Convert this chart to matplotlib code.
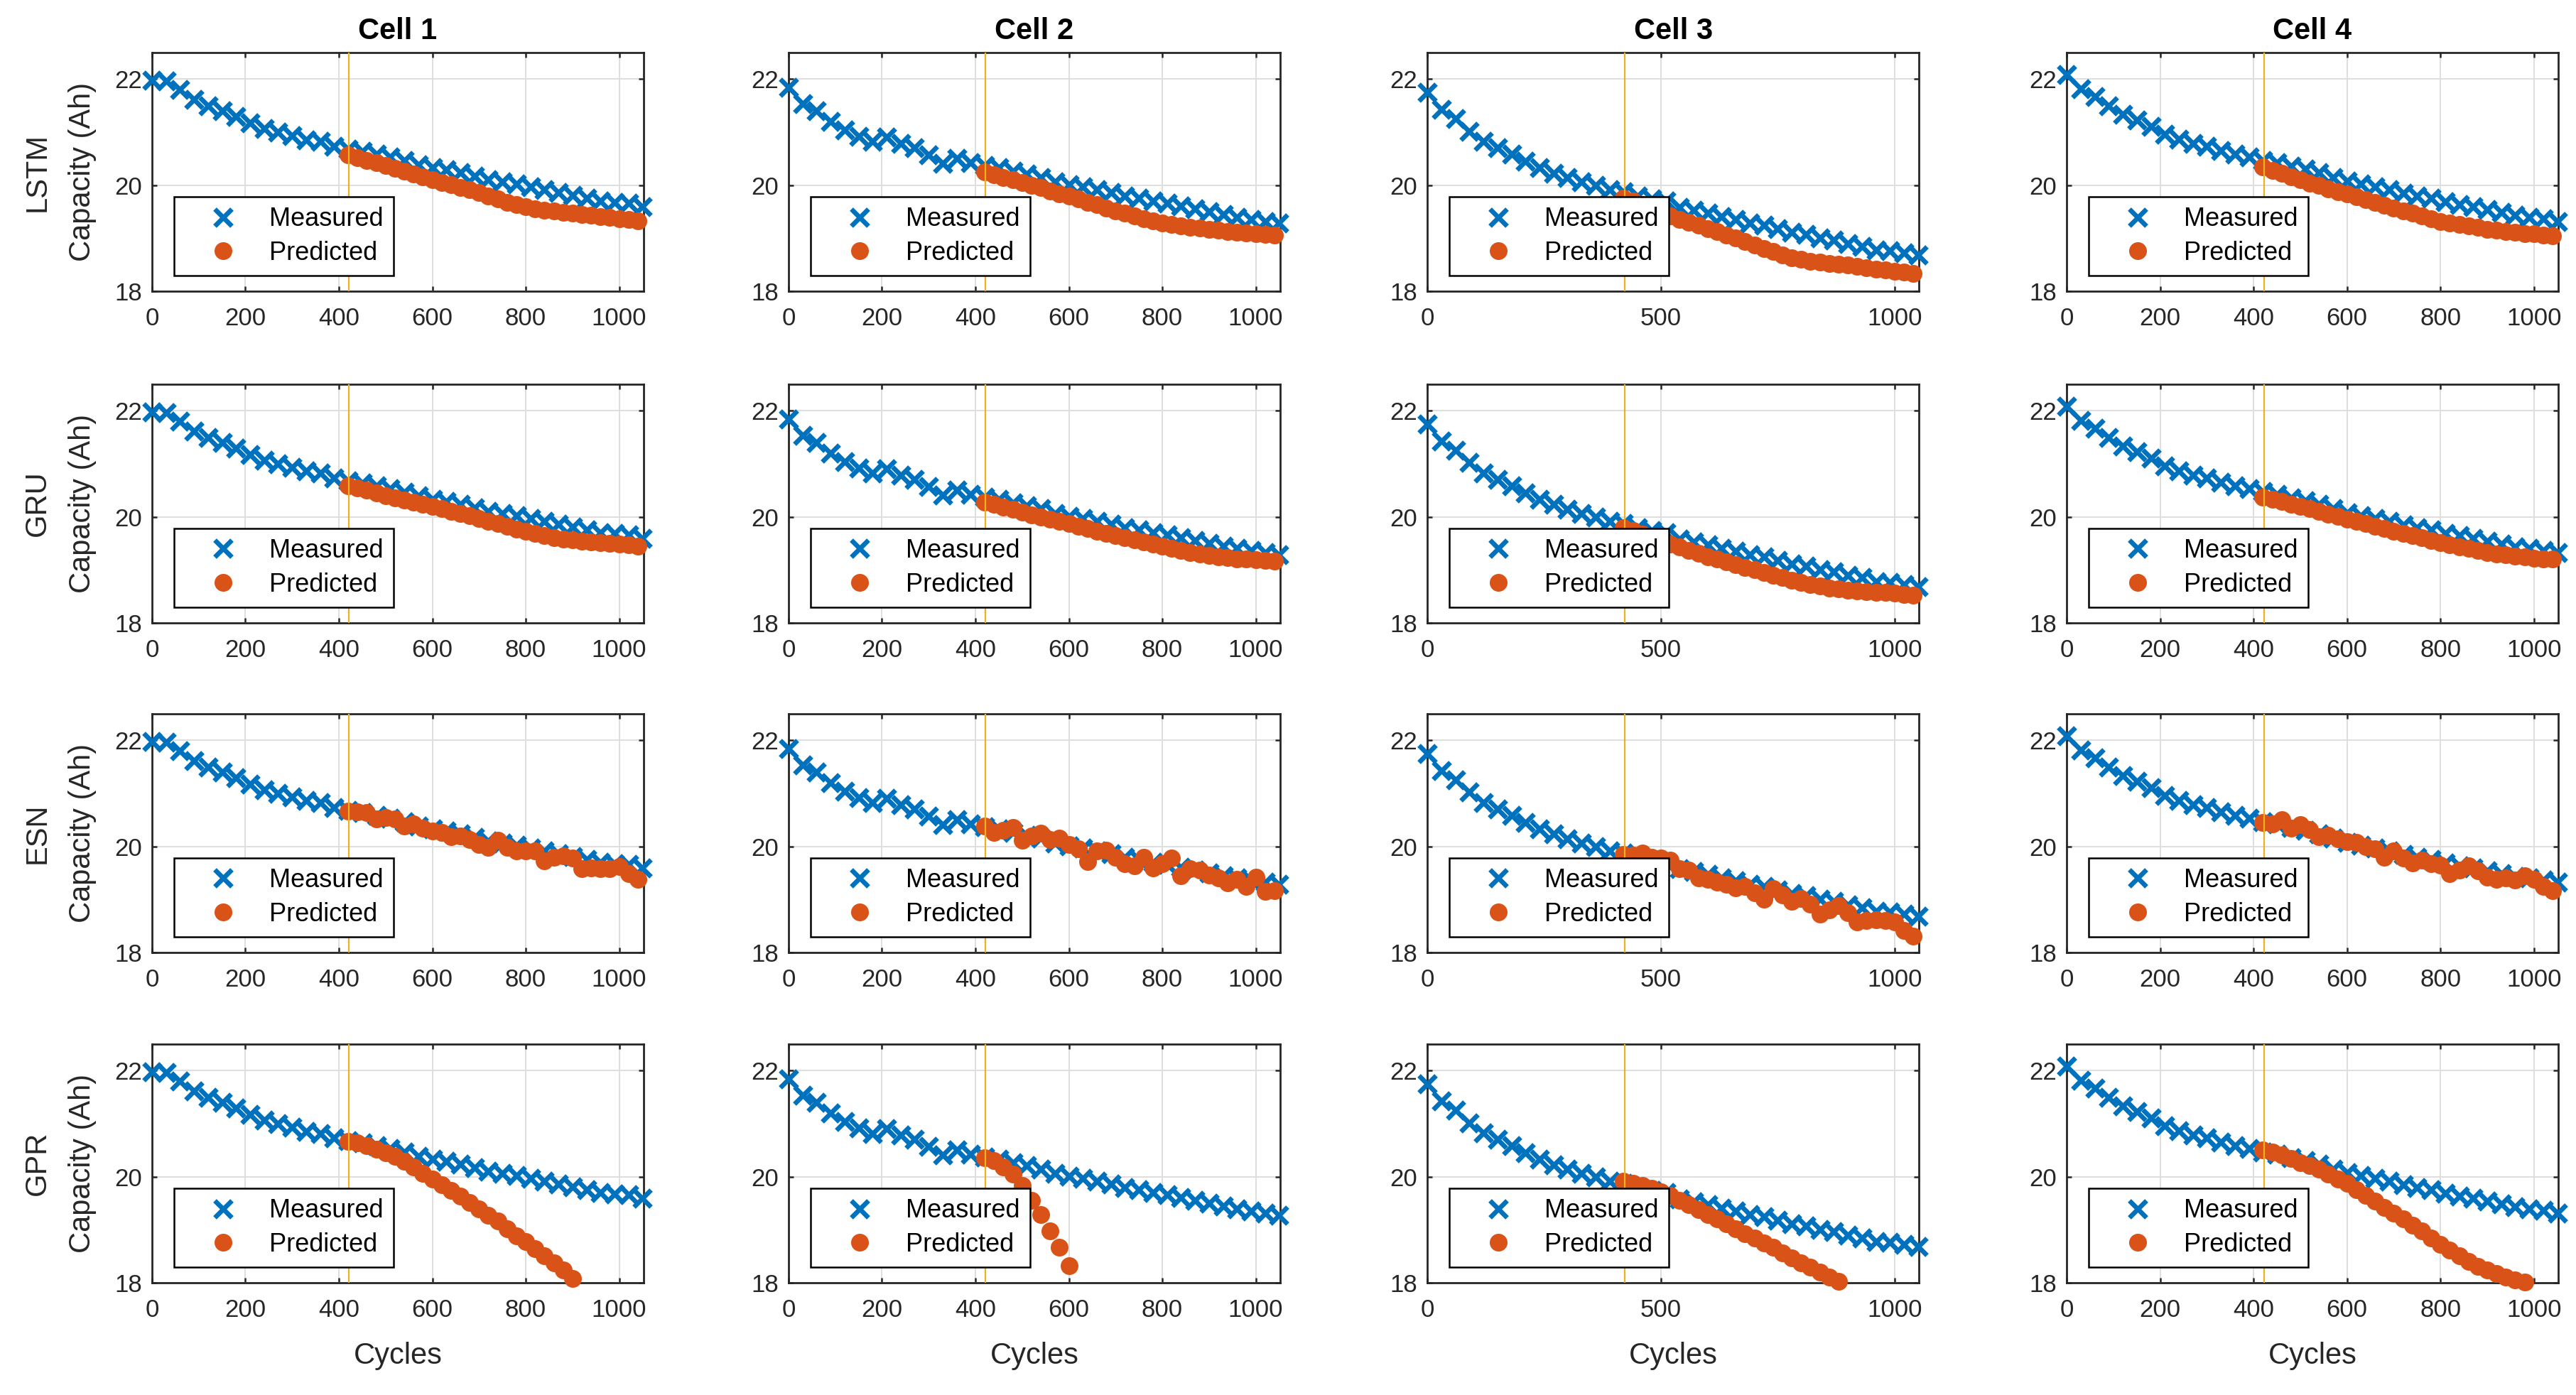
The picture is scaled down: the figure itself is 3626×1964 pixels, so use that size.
import numpy as np
import matplotlib
matplotlib.use("Agg")
import matplotlib.pyplot as plt

plt.rcParams['font.family'] = ['Liberation Sans', 'DejaVu Sans']

cell_names = ['Cell 1', 'Cell 2', 'Cell 3', 'Cell 4']
model_names = ['LSTM', 'GRU', 'ESN', 'GPR']

cycles_meas = np.arange(0, 1051, 30)
cycles_pred = np.arange(420, 1041, 20)
split_cycle = 422

meas_cell1 = [21.98, 21.96, 21.80, 21.62, 21.49, 21.40, 21.29, 21.17, 21.07, 21.00,
              20.93, 20.86, 20.82, 20.73, 20.68, 20.64, 20.58, 20.53, 20.46, 20.39,
              20.33, 20.29, 20.24, 20.17, 20.10, 20.06, 20.02, 19.97, 19.92, 19.86,
              19.81, 19.75, 19.70, 19.68, 19.66, 19.59]
meas_cell2 = [21.84, 21.54, 21.40, 21.20, 21.04, 20.92, 20.82, 20.91, 20.79, 20.71,
              20.57, 20.41, 20.50, 20.42, 20.37, 20.33, 20.26, 20.21, 20.15, 20.06,
              20.01, 19.97, 19.92, 19.86, 19.80, 19.75, 19.70, 19.66, 19.61, 19.55,
              19.50, 19.45, 19.40, 19.36, 19.32, 19.28]
meas_cell3 = [21.75, 21.43, 21.25, 21.02, 20.83, 20.70, 20.59, 20.45, 20.33, 20.23,
              20.14, 20.06, 20.00, 19.92, 19.87, 19.79, 19.74, 19.70, 19.58, 19.53,
              19.47, 19.41, 19.35, 19.29, 19.24, 19.18, 19.11, 19.07, 19.01, 18.96,
              18.90, 18.85, 18.78, 18.76, 18.72, 18.68]
meas_cell4 = [22.08, 21.82, 21.67, 21.50, 21.34, 21.23, 21.11, 20.96, 20.87, 20.79,
              20.73, 20.65, 20.59, 20.53, 20.47, 20.42, 20.36, 20.30, 20.24, 20.15,
              20.08, 20.02, 19.97, 19.92, 19.85, 19.80, 19.75, 19.69, 19.64, 19.59,
              19.54, 19.49, 19.43, 19.40, 19.37, 19.32]
measured = [meas_cell1, meas_cell2, meas_cell3, meas_cell4]

lstm_pred = [
    [20.57, 20.52, 20.47, 20.42, 20.37, 20.32, 20.26, 20.21, 20.16, 20.10, 20.05,
     20.01, 19.96, 19.91, 19.86, 19.80, 19.74, 19.68, 19.63, 19.60, 19.56, 19.53,
     19.51, 19.49, 19.47, 19.45, 19.43, 19.41, 19.39, 19.37, 19.35, 19.33],
    [20.25, 20.20, 20.15, 20.10, 20.05, 20.00, 19.95, 19.89, 19.84, 19.79, 19.74,
     19.68, 19.63, 19.57, 19.52, 19.47, 19.42, 19.37, 19.33, 19.29, 19.26, 19.23,
     19.21, 19.19, 19.17, 19.15, 19.13, 19.11, 19.10, 19.08, 19.07, 19.06],
    [19.76, 19.70, 19.63, 19.56, 19.49, 19.42, 19.36, 19.30, 19.24, 19.18, 19.12,
     19.06, 19.00, 18.94, 18.87, 18.81, 18.75, 18.68, 18.63, 18.60, 18.57, 18.55,
     18.53, 18.51, 18.49, 18.47, 18.44, 18.42, 18.40, 18.38, 18.36, 18.34],
    [20.34, 20.28, 20.22, 20.16, 20.10, 20.04, 19.99, 19.93, 19.88, 19.83, 19.78,
     19.73, 19.68, 19.62, 19.57, 19.52, 19.47, 19.42, 19.37, 19.32, 19.29, 19.26,
     19.23, 19.20, 19.17, 19.15, 19.13, 19.11, 19.09, 19.08, 19.06, 19.05],
]
gru_pred = [
    [20.58, 20.54, 20.50, 20.45, 20.40, 20.36, 20.32, 20.28, 20.24, 20.19, 20.15,
     20.10, 20.06, 20.02, 19.97, 19.92, 19.87, 19.82, 19.77, 19.73, 19.69, 19.65,
     19.61, 19.58, 19.56, 19.54, 19.53, 19.51, 19.50, 19.49, 19.47, 19.45],
    [20.28, 20.23, 20.18, 20.14, 20.09, 20.04, 20.00, 19.96, 19.91, 19.87, 19.82,
     19.78, 19.73, 19.69, 19.64, 19.60, 19.56, 19.52, 19.48, 19.44, 19.40, 19.37,
     19.33, 19.30, 19.27, 19.25, 19.23, 19.21, 19.20, 19.19, 19.18, 19.17],
    [19.80, 19.74, 19.67, 19.61, 19.55, 19.49, 19.43, 19.37, 19.31, 19.25, 19.20,
     19.15, 19.10, 19.05, 19.00, 18.95, 18.90, 18.85, 18.80, 18.76, 18.72, 18.69,
     18.66, 18.64, 18.62, 18.60, 18.59, 18.58, 18.57, 18.56, 18.54, 18.52],
    [20.37, 20.33, 20.29, 20.24, 20.20, 20.15, 20.10, 20.05, 20.01, 19.96, 19.91,
     19.87, 19.82, 19.78, 19.73, 19.68, 19.64, 19.60, 19.55, 19.51, 19.47, 19.43,
     19.40, 19.36, 19.33, 19.30, 19.28, 19.26, 19.24, 19.22, 19.21, 19.20],
]
esn_pred = [
    [20.67, 20.65, 20.64, 20.52, 20.54, 20.52, 20.38, 20.43, 20.34, 20.29, 20.27,
     20.18, 20.20, 20.13, 20.04, 19.98, 20.11, 19.98, 19.91, 19.91, 19.91, 19.73,
     19.80, 19.82, 19.78, 19.58, 19.60, 19.58, 19.58, 19.62, 19.49, 19.38],
    [20.39, 20.27, 20.31, 20.36, 20.11, 20.20, 20.25, 20.13, 20.16, 20.04, 19.96,
     19.71, 19.91, 19.93, 19.80, 19.67, 19.64, 19.80, 19.60, 19.67, 19.78, 19.44,
     19.58, 19.55, 19.46, 19.40, 19.31, 19.38, 19.24, 19.42, 19.15, 19.17],
    [19.85, 19.83, 19.87, 19.80, 19.78, 19.74, 19.58, 19.56, 19.40, 19.38, 19.33,
     19.29, 19.22, 19.25, 19.13, 19.00, 19.20, 19.09, 18.96, 19.02, 18.91, 18.73,
     18.80, 18.89, 18.75, 18.58, 18.60, 18.62, 18.60, 18.58, 18.42, 18.31],
    [20.45, 20.43, 20.50, 20.34, 20.41, 20.32, 20.18, 20.21, 20.14, 20.09, 20.07,
     20.00, 19.96, 19.80, 19.91, 19.78, 19.69, 19.74, 19.67, 19.65, 19.49, 19.56,
     19.63, 19.54, 19.42, 19.38, 19.40, 19.36, 19.45, 19.38, 19.25, 19.16],
]
gpr_pred = [
    [20.67, 20.64, 20.58, 20.52, 20.45, 20.38, 20.29, 20.18, 20.07, 19.96, 19.85,
     19.74, 19.63, 19.51, 19.40, 19.27, 19.16, 19.02, 18.89, 18.78, 18.64, 18.51,
     18.37, 18.24, 18.08],
    [20.36, 20.31, 20.19, 20.05, 19.83, 19.55, 19.29, 18.98, 18.67, 18.32],
    [19.92, 19.87, 19.83, 19.78, 19.71, 19.65, 19.56, 19.47, 19.38, 19.29, 19.20,
     19.11, 19.02, 18.93, 18.84, 18.75, 18.67, 18.56, 18.47, 18.38, 18.29, 18.20,
     18.11, 18.03],
    [20.50, 20.46, 20.41, 20.34, 20.27, 20.21, 20.14, 20.05, 19.96, 19.87, 19.76,
     19.65, 19.54, 19.42, 19.31, 19.20, 19.09, 18.98, 18.84, 18.73, 18.62, 18.51,
     18.40, 18.31, 18.24, 18.17, 18.11, 18.06, 18.02],
]
predictions = [lstm_pred, gru_pred, esn_pred, gpr_pred]

blue = '#0072BD'
orange = '#D95319'
gold = '#EDB120'
dark = '#262626'

fig = plt.figure(figsize=(18.13, 9.82), dpi=200)
lefts = [0.0590, 0.3061, 0.5541, 0.8023]
bottoms = [0.7912, 0.5535, 0.3172, 0.0804]
w, h = 0.1908, 0.1711

for r, model in enumerate(model_names):
    for c in range(4):
        ax = fig.add_axes([lefts[c], bottoms[r], w, h])
        ax.plot(cycles_meas, measured[c], 'x', color=blue, ms=8.8, mew=2.4,
                label='Measured', clip_on=False, zorder=3)
        pv = predictions[r][c]
        ax.plot(cycles_pred[:len(pv)], pv, 'o', color=orange, ms=8.0,
                mew=1.0, mec=orange, label='Predicted', clip_on=False, zorder=4)
        ax.axvline(split_cycle, color=gold, lw=0.8, zorder=5)

        ax.set_xlim(0, 1052)
        ax.set_ylim(18, 22.5)
        ax.set_yticks([18, 20, 22])
        if c == 2:
            ax.set_xticks([0, 500, 1000])
        else:
            ax.set_xticks([0, 200, 400, 600, 800, 1000])
        ax.grid(True, color='#dedede', lw=0.7)
        ax.set_axisbelow(True)
        ax.tick_params(direction='in', length=2.6, width=0.9, top=True,
                       right=True, labelsize=12.5, colors=dark,
                       labelcolor=dark)
        ax.tick_params(axis='x', pad=8)
        ax.tick_params(axis='y', pad=5)
        for s in ax.spines.values():
            s.set_color(dark)
            s.set_linewidth(1.0)

        leg = ax.legend(loc='lower left', bbox_to_anchor=(0.045, 0.065),
                        borderaxespad=0, fancybox=False, edgecolor='black',
                        framealpha=1, fontsize=13, numpoints=1,
                        handlelength=3.0, handletextpad=0.3, labelspacing=0.35,
                        borderpad=0.4)
        leg.get_frame().set_linewidth(0.9)
        leg.set_zorder(10)

        if r == 0:
            ax.set_title(cell_names[c], fontsize=15, fontweight='bold', pad=7)
        if c == 0:
            ax.set_ylabel(model + '\nCapacity (Ah)', fontsize=15, color=dark,
                          linespacing=1.75, labelpad=9)
        if r == 3:
            ax.set_xlabel('Cycles', fontsize=15, color=dark, labelpad=10)

fig.savefig('out.png', dpi=200)
